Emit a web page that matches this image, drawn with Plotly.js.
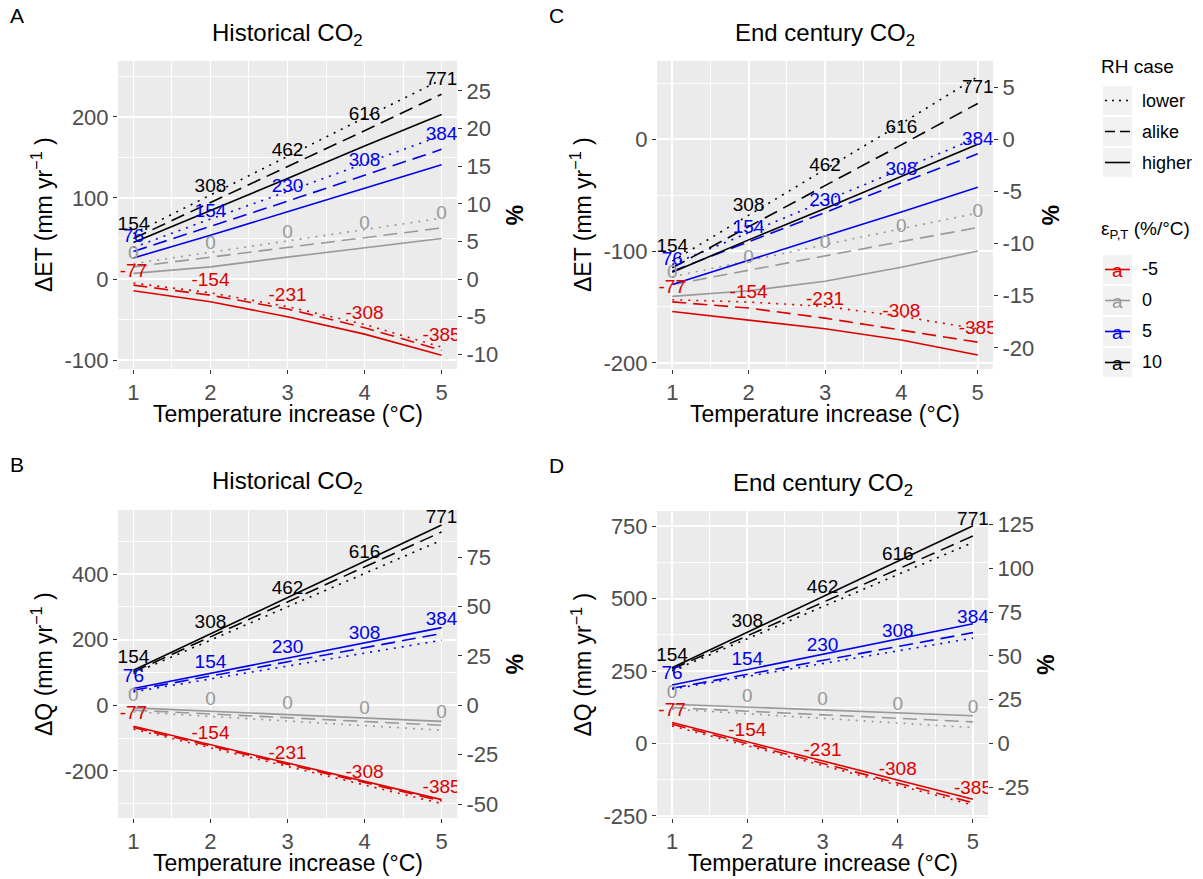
<!DOCTYPE html>
<html>
<head>
<meta charset="utf-8">
<script src="https://cdn.plot.ly/plotly-3.0.1.min.js"></script>
<style>html,body{margin:0;padding:0;background:#fff;}#chart{width:1203px;height:879px;}</style>
</head>
<body>
<div id="chart"></div>
<script>
// ---------------- DATA ----------------
const temps = [1, 2, 3, 4, 5];
const epsValues = ['-5', '0', '5', '10'];
const epsColors = ['#DD0000', '#999999', '#0000EE', '#000000'];
const rhCases = ['lower', 'alike', 'higher'];
// ΔP labels (mm/yr) for each ε (rows: -5, 0, 5, 10)
const dpLabels = [
  [-77, -154, -231, -308, -385],
  [0, 0, 0, 0, 0],
  [76, 154, 230, 308, 384],
  [154, 308, 462, 616, 771]
];

// Panel A: ΔET, historical CO2 (rows: ε = -5, 0, 5, 10)
const etHistLower  = [[-5, -17, -34, -56, -84], [19, 33, 47, 61, 75], [39, 74, 108, 143, 177], [56, 104, 152, 199, 246]];
const etHistAlike  = [[-7.5, -20, -37, -60, -88], [15, 27, 39, 51, 63], [34, 65, 96, 128, 160], [50, 94, 139, 183, 228]];
const etHistHigher = [[-14.5, -28, -46.5, -68, -94], [7, 15, 27, 38.5, 50], [26, 54, 83, 112, 141], [45, 84, 124, 164, 203]];
const etHistLabelY = [[8.6, -3.3, -21, -43, -70], [31, 43, 56, 68, 80], [51, 82, 113, 145.7, 177], [66, 113, 158, 201.5, 245]];

// Panel C: ΔET, end-century CO2
const etEndLower  = [[-143.5, -145.6, -149.5, -158.5, -169.5], [-123, -108.5, -94, -80, -66], [-112, -83.5, -55, -27, 1.5], [-109, -68, -27, 14, 56]];
const etEndAlike  = [[-145.5, -151, -160, -170.5, -181.5], [-130, -117, -104, -91.5, -79], [-118, -92, -65.5, -39, -13], [-115, -78, -41.5, -5, 32]];
const etEndHigher = [[-154, -161.5, -169.5, -179.5, -193], [-140.5, -135.5, -127, -114.5, -100], [-130, -108, -86.5, -65, -43], [-119, -90, -62, -33, -4.5]];
const etEndLabelY = [[-133.6, -137.5, -144, -154.5, -169.5], [-120, -106.7, -93, -78.6, -65.7], [-108, -80, -55, -27.6, -0.6], [-97, -60, -24.4, 10, 45.3]];

// Panel B: ΔQ, historical CO2
const qHistLower  = [[-73, -130, -186.5, -243, -300], [-20, -34, -48, -62, -76], [41, 80, 120, 159, 198.5], [97, 199, 300, 402, 504]];
const qHistAlike  = [[-68, -124, -180, -236, -292], [-15, -26.5, -38, -49.5, -61], [46, 89, 132.5, 176, 219], [102, 209, 316, 422, 529]];
const qHistHigher = [[-64, -120, -175, -231, -288], [-8, -18, -28.5, -39, -49], [51, 97.5, 144, 190.5, 237], [107, 218, 329, 440, 550]];
const qHistLabelY = [[-28, -89, -149, -206, -254], [28, 16, 2.5, -10.7, -23], [86.5, 129.8, 173, 216, 259.5], [142.6, 249.4, 353.7, 463, 570]];

// Panel D: ΔQ, end-century CO2
const qEndLower  = [[61, -7, -75.5, -144, -212], [119, 103, 87, 71, 55], [188, 232, 276, 320, 364], [251, 362, 472.5, 583, 694]];
const qEndAlike  = [[67, -1, -68.5, -136, -204], [124, 112, 99.5, 87, 75], [191, 239, 287, 335, 383], [257, 372, 487, 602, 717]];
const qEndHigher = [[72.5, 6, -60, -126, -192], [136, 126, 116, 106, 96], [202.5, 255.5, 308, 361, 414], [262, 384.5, 507, 629.5, 752]];
const qEndLabelY = [[110, 41, -28, -93.6, -157.5], [173, 160.6, 148, 133, 121.5], [239.6, 288, 337, 384.6, 433], [303, 419, 537, 649, 771]];

// Axis ticks
const xTicks = [1, 2, 3, 4, 5];
const ticksA = [-100, 0, 100, 200];
const ticksAPct = [-10, -5, 0, 5, 10, 15, 20, 25];
const ticksC = [-200, -100, 0];
const ticksCPct = [-20, -15, -10, -5, 0, 5];
const ticksB = [-200, 0, 200, 400];
const ticksBPct = [-50, -25, 0, 25, 50, 75];
const ticksD = [-250, 0, 250, 500, 750];
const ticksDPct = [-25, 0, 25, 50, 75, 100, 125];

// ---------------- LAYOUT HELPERS ----------------
const W = 1203, H = 879;
const px = x => x / W;
const py = y => 1 - y / H;
const FONT = 'Liberation Sans, Arial, sans-serif';
const dashes = {lower: '2px,6px', alike: '14px,7px', higher: 'solid'};

const panels = [
  {id: '', xd: [118, 457], yd: [61, 369], yr: [-111, 269], pct: 9.28, ticks: ticksA, pticks: ticksAPct, minor: 50,
   data: {lower: etHistLower, alike: etHistAlike, higher: etHistHigher}, labelY: etHistLabelY,
   letter: 'A', title: 'Historical CO<sub>2</sub>', ytitle: 'ΔET (mm yr<sup>−1</sup> )'},
  {id: '2', xd: [657, 993], yd: [61, 369], yr: [-205.5, 70], pct: 9.33, ticks: ticksC, pticks: ticksCPct, minor: 50,
   data: {lower: etEndLower, alike: etEndAlike, higher: etEndHigher}, labelY: etEndLabelY,
   letter: 'C', title: 'End century CO<sub>2</sub>', ytitle: 'ΔET (mm yr<sup>−1</sup> )'},
  {id: '3', xd: [118, 457], yd: [510, 818], yr: [-344, 596], pct: 6.03, ticks: ticksB, pticks: ticksBPct, minor: 100,
   data: {lower: qHistLower, alike: qHistAlike, higher: qHistHigher}, labelY: qHistLabelY,
   letter: 'B', title: 'Historical CO<sub>2</sub>', ytitle: 'ΔQ (mm yr<sup>−1</sup> )'},
  {id: '4', xd: [657, 988], yd: [511, 818], yr: [-257, 803], pct: 6.05, ticks: ticksD, pticks: ticksDPct, minor: 125,
   data: {lower: qEndLower, alike: qEndAlike, higher: qEndHigher}, labelY: qEndLabelY,
   letter: 'D', title: 'End century CO<sub>2</sub>', ytitle: 'ΔQ (mm yr<sup>−1</sup> )'}
];

const traces = [];
const layout = {
  width: W, height: H, margin: {l: 0, r: 0, t: 0, b: 0},
  paper_bgcolor: '#ffffff', plot_bgcolor: '#EBEBEB',
  showlegend: false, font: {family: FONT, size: 20, color: '#000'},
  annotations: [], shapes: []
};

const tickFont = {family: FONT, size: 22, color: '#4D4D4D'};

panels.forEach((p, pi) => {
  const xa = 'xaxis' + p.id, ya = 'yaxis' + p.id;
  const xr = 'x' + p.id, yr = 'y' + p.id;
  const y2n = 5 + pi; // secondary axis numbers 5..8
  const ya2 = 'yaxis' + y2n, yr2 = 'y' + y2n;

  layout[xa] = {
    domain: [px(p.xd[0]), px(p.xd[1])], anchor: yr, range: [0.8, 5.2],
    tickmode: 'array', tickvals: xTicks, ticktext: xTicks.map(String),
    ticks: 'outside', ticklen: 4, tickwidth: 1, tickcolor: '#333333', tickfont: tickFont,
    showgrid: true, gridcolor: '#FFFFFF', gridwidth: 1.8, zeroline: false, showline: false,
    minor: {tickmode: 'linear', tick0: 0.5, dtick: 0.5, showgrid: true, gridcolor: '#FFFFFF', gridwidth: 0.9, ticklen: 0}
  };
  layout[ya] = {
    domain: [py(p.yd[1]), py(p.yd[0])], anchor: xr, range: p.yr,
    tickmode: 'array', tickvals: p.ticks, ticktext: p.ticks.map(String),
    ticks: 'outside', ticklen: 4, tickwidth: 1, tickcolor: '#333333', tickfont: tickFont,
    showgrid: true, gridcolor: '#FFFFFF', gridwidth: 1.8, zeroline: false, showline: false,
    minor: {tickmode: 'linear', tick0: 0, dtick: p.minor, showgrid: true, gridcolor: '#FFFFFF', gridwidth: 0.9, ticklen: 0}
  };
  layout[ya2] = {
    overlaying: yr, anchor: xr, side: 'right', range: [p.yr[0] / p.pct, p.yr[1] / p.pct],
    tickmode: 'array', tickvals: p.pticks, ticktext: p.pticks.map(String),
    ticks: 'outside', ticklen: 4, tickwidth: 1, tickcolor: '#333333', tickfont: tickFont,
    showgrid: false, zeroline: false, showline: false
  };
  // invisible trace to activate secondary axis
  traces.push({x: [temps[0]], y: [0], xaxis: xr, yaxis: yr2, mode: 'markers',
    marker: {opacity: 0}, hoverinfo: 'skip', showlegend: false});

  epsValues.forEach((e, ei) => {
    rhCases.forEach(c => {
      traces.push({
        x: temps, y: p.data[c][ei], xaxis: xr, yaxis: yr, mode: 'lines',
        line: {color: epsColors[ei], width: 1.6, dash: dashes[c]},
        hoverinfo: 'skip', showlegend: false
      });
    });
  });
  // ΔP labels
  epsValues.forEach((e, ei) => {
    traces.push({
      x: temps, y: p.labelY[ei], xaxis: xr, yaxis: yr, mode: 'text',
      text: dpLabels[ei].map(String), textposition: 'middle center',
      textfont: {family: FONT, size: 19, color: epsColors[ei]},
      cliponaxis: true, hoverinfo: 'skip', showlegend: false
    });
  });

  const cx = (p.xd[0] + p.xd[1]) / 2, cy = (p.yd[0] + p.yd[1]) / 2;
  const ann = (x, y, text, opts) => layout.annotations.push(Object.assign({
    xref: 'paper', yref: 'paper', x: px(x), y: py(y), text: text, showarrow: false,
    xanchor: 'center', yanchor: 'middle', font: {family: FONT, size: 22, color: '#000'}
  }, opts || {}));
  // panel title
  ann(cx, p.yd[0] - 27, p.title, {font: {family: FONT, size: 24, color: '#000'}});
  // panel letter
  ann(p.xd[0] - 101, p.yd[0] - 46, p.letter, {font: {family: FONT, size: 21, color: '#000'}});
  // x title
  ann(cx, p.yd[1] + 45, 'Temperature increase (°C)', {font: {family: FONT, size: 23, color: '#000'}});
  // y title
  ann(p.xd[0] - 76, cy, p.ytitle, {textangle: -90, font: {family: FONT, size: 23, color: '#000'}});
  // right title
  ann(p.xd[1] + 57, cy, '<b>%</b>', {textangle: 90, font: {family: FONT, size: 23, color: '#000'}});
});

// ---------------- LEGEND (manual, ggplot-like) ----------------
const legAnn = (x, y, text, opts) => layout.annotations.push(Object.assign({
  xref: 'paper', yref: 'paper', x: px(x), y: py(y), text: text, showarrow: false,
  xanchor: 'left', yanchor: 'middle', font: {family: FONT, size: 18, color: '#000'}
}, opts || {}));
const keyBox = (y0, y1) => layout.shapes.push({type: 'rect', xref: 'paper', yref: 'paper',
  x0: px(1103), x1: px(1132), y0: py(y1), y1: py(y0), fillcolor: '#F2F2F2', line: {width: 0}, layer: 'below'});
const keyLine = (yc, color, dash) => layout.shapes.push({type: 'line', xref: 'paper', yref: 'paper',
  x0: px(1105), x1: px(1130), y0: py(yc), y1: py(yc), line: {color: color, width: 1.6, dash: dash}});

legAnn(1099, 66, 'RH case', {font: {family: FONT, size: 19, color: '#000'}});
const rhBoxes = [[86, 115], [117, 146], [148, 177]];
rhCases.forEach((c, i) => {
  const yc = (rhBoxes[i][0] + rhBoxes[i][1]) / 2;
  keyBox(rhBoxes[i][0], rhBoxes[i][1]);
  keyLine(yc, '#000000', c === 'higher' ? 'solid' : (c === 'lower' ? '2px,5px' : '10px,5px'));
  legAnn(1140, yc, c);
});
legAnn(1099, 230, 'ε<sub>P,T</sub> (%/°C)', {font: {family: FONT, size: 19, color: '#000'}});
const epsBoxes = [[255, 284], [286, 315], [317, 346], [348, 377]];
epsValues.forEach((e, i) => {
  const yc = (epsBoxes[i][0] + epsBoxes[i][1]) / 2;
  keyBox(epsBoxes[i][0], epsBoxes[i][1]);
  keyLine(yc, epsColors[i], 'solid');
  legAnn(1117.5, yc + 1, 'a', {xanchor: 'center', font: {family: FONT, size: 19, color: epsColors[i]}});
  legAnn(1140, yc, e);
});

Plotly.newPlot('chart', traces, layout, {staticPlot: true, displayModeBar: false});
</script>
</body>
</html>
